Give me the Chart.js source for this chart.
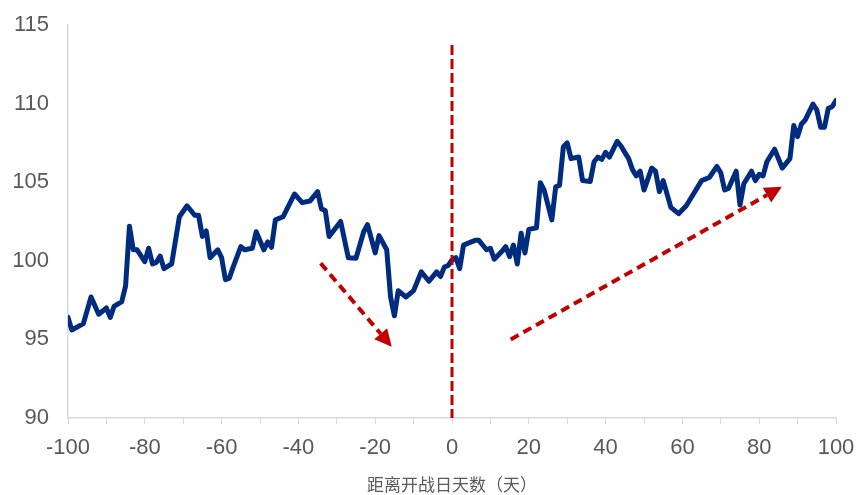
<!DOCTYPE html>
<html>
<head>
<meta charset="utf-8">
<script src="https://cdn.jsdelivr.net/npm/chart.js@4.4.1/dist/chart.umd.min.js"></script>
<style>
  html, body { margin: 0; padding: 0; background: #fff; }
  #wrap { width: 859px; height: 495px; position: relative; }
</style>
</head>
<body>
<div id="wrap"><canvas id="grafico"></canvas></div>
<script>
// 距离开战日天数 / 指数
const dias = [
  -100, -99, -96, -94, -92, -90, -89, -88, -86, -85, -84, -83, -82, -80, -79, -78, -77, -76, -75, -73,
  -71, -69, -67, -66, -65, -64, -63, -61, -60, -59, -58, -57, -55, -54, -52, -51, -49, -48, -47, -46,
  -44, -41, -39, -37, -35, -34, -33, -32, -29, -27, -25, -23, -22, -20, -19, -17, -16, -15, -14, -12,
  -10, -8, -6, -4, -3, -2, -1, 0, 1, 2, 3, 6, 7, 9, 10, 11, 13, 14, 15, 16,
  17, 18, 19, 20, 22, 23, 24, 26, 27, 28, 29, 30, 31, 33, 34, 36, 37, 38, 39, 40,
  41, 43, 44, 45, 46, 47, 48, 49, 50, 52, 53, 54, 55, 57, 59, 61, 62, 65, 67, 69,
  70, 71, 72, 74, 75, 76, 78, 79, 80, 81, 82, 84, 86, 88, 89, 90, 91, 92, 94, 95,
  96, 97, 98, 99, 100
];
const valores = [
  96.4, 95.6, 96.0, 97.7, 96.6, 97.0, 96.4, 97.1, 97.4, 98.4, 102.2, 100.7, 100.7, 99.95, 100.8, 99.8, 99.9, 100.3, 99.5, 99.8,
  102.8, 103.5, 102.9, 102.9, 101.55, 101.9, 100.2, 100.7, 100.2, 98.8, 98.9, 99.6, 100.9, 100.7, 100.8, 101.85, 100.7, 101.2, 100.86, 102.6,
  102.8, 104.25, 103.7, 103.8, 104.4, 103.3, 103.2, 101.55, 102.5, 100.2, 100.16, 101.85, 102.3, 100.5, 101.6, 100.7, 97.7, 96.5, 98.1, 97.7,
  98.1, 99.3, 98.7, 99.3, 99.0, 99.6, 99.7, 100.05, 100.2, 99.5, 101.0, 101.3, 101.3, 100.7, 100.8, 100.1, 100.6, 100.9, 100.26, 101.0,
  99.8, 101.75, 100.5, 102.0, 102.1, 104.97, 104.5, 102.6, 104.7, 104.8, 107.26, 107.5, 106.5, 106.6, 105.1, 105.05, 106.3, 106.6, 106.45, 106.9,
  106.6, 107.6, 107.3, 106.9, 106.5, 105.8, 105.4, 105.7, 104.5, 105.9, 105.7, 104.4, 105.1, 103.4, 103.0, 103.5, 103.9, 105.1, 105.3, 106.0,
  105.6, 104.5, 104.6, 105.7, 103.55, 104.9, 105.7, 105.1, 105.5, 105.4, 106.3, 107.1, 105.9, 106.5, 108.6, 107.9, 108.7, 108.96, 109.97, 109.6,
  108.5, 108.5, 109.7, 109.8, 110.2
];
const ticksY = [90, 95, 100, 105, 110, 115];
const ticksX = [-100, -80, -60, -40, -20, 0, 20, 40, 60, 80, 100];

// flechas: [x0, y0, x1, y1] en unidades de datos
const flechas = [
  [-34.2, 99.84, -15.7, 94.54],
  [15.3, 95.0, 85.9, 104.71]
];
const lineaVertical = [0, 90, 113.73];

const puntos = dias.map((d, i) => ({ x: d, y: valores[i] }));

const rojo = '#C00000';
const gris = '#595959';

const pluginAnotaciones = {
  id: 'anotaciones',
  afterDatasetsDraw(chart) {
    const ctx = chart.ctx;
    const sx = chart.scales.x, sy = chart.scales.y;
    ctx.save();
    ctx.strokeStyle = rojo;
    ctx.fillStyle = rojo;
    /* LINEA VERTICAL */
    ctx.lineWidth = 3;
    ctx.setLineDash([10, 4]);
    ctx.beginPath();
    ctx.moveTo(sx.getPixelForValue(lineaVertical[0]), sy.getPixelForValue(lineaVertical[2]));
    ctx.lineTo(sx.getPixelForValue(lineaVertical[0]), sy.getPixelForValue(lineaVertical[1]));
    ctx.stroke();
    /* FLECHAS */
    flechas.forEach(f => {
      const x0 = sx.getPixelForValue(f[0]), y0 = sy.getPixelForValue(f[1]);
      const x1 = sx.getPixelForValue(f[2]), y1 = sy.getPixelForValue(f[3]);
      const ang = Math.atan2(y1 - y0, x1 - x0);
      const largo = 17, ancho = 8.5;
      const bx = x1 - largo * Math.cos(ang), by = y1 - largo * Math.sin(ang);
      ctx.lineWidth = 4;
      ctx.setLineDash([9, 5.5]);
      ctx.beginPath();
      ctx.moveTo(x0, y0);
      ctx.lineTo(bx, by);
      ctx.stroke();
      ctx.setLineDash([]);
      ctx.beginPath();
      ctx.moveTo(x1, y1);
      ctx.lineTo(bx + ancho * Math.sin(ang), by - ancho * Math.cos(ang));
      ctx.lineTo(bx - ancho * Math.sin(ang), by + ancho * Math.cos(ang));
      ctx.closePath();
      ctx.fill();
    });
    ctx.restore();
  }
};

new Chart(document.getElementById('grafico'), {
  type: 'line',
  data: {
    datasets: [{
      label: '指数',
      data: puntos,
      borderColor: '#002C7F',
      borderWidth: 5,
      pointRadius: 0,
      tension: 0,
      borderJoinStyle: 'round',
      borderCapStyle: 'round'
    }]
  },
  options: {
    responsive: true,
    maintainAspectRatio: false,
    animation: false,
    layout: { padding: { top: 25, right: 23, left: 0, bottom: 0 } },
    plugins: {
      legend: { display: false },
      tooltip: { enabled: false }
    },
    scales: {
      x: {
        type: 'linear',
        min: -100,
        max: 100,
        afterFit: s => { s.height = 77; s.paddingLeft = 0; s.paddingRight = 0; },
        afterBuildTicks: s => { s.ticks = []; for (let v = -100; v <= 100; v += 10) s.ticks.push({ value: v }); },
        ticks: {
          autoSkip: false,
          maxRotation: 0,
          padding: 11,
          color: gris,
          font: { family: 'Liberation Sans, Arial, sans-serif', size: 22 },
          callback: v => ticksX.includes(v) ? String(v) : ''
        },
        grid: { drawOnChartArea: false, drawTicks: true, tickLength: 6, color: '#d9d9d9' },
        border: { display: true, color: '#d9d9d9', width: 1.5 },
        title: {
          display: true,
          text: '距离开战日天数（天）',
          color: gris,
          font: { family: 'Noto Sans CJK SC', size: 17 },
          padding: { top: 0, bottom: 0 }
        }
      },
      y: {
        min: 90,
        max: 115,
        afterFit: s => { s.width = 68; s.paddingTop = 0; s.paddingBottom = 0; },
        afterBuildTicks: s => { s.ticks = ticksY.map(v => ({ value: v })); },
        ticks: {
          padding: 19,
          color: gris,
          font: { family: 'Liberation Sans, Arial, sans-serif', size: 22 }
        },
        grid: { display: false, drawTicks: false },
        border: { display: true, color: '#d9d9d9', width: 1.5 }
      }
    }
  },
  plugins: [pluginAnotaciones]
});
</script>
</body>
</html>
